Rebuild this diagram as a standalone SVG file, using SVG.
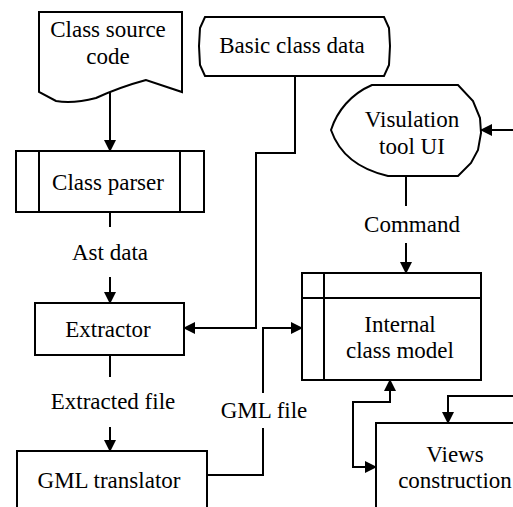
<svg xmlns="http://www.w3.org/2000/svg" width="513" height="507" viewBox="0 0 513 507">
  <style>
    .shape { fill: #ffffff; stroke: #000000; stroke-width: 2; }
    .div { fill: none; stroke: #000000; stroke-width: 2; }
    .wire { fill: none; stroke: #000000; stroke-width: 2; }
    .lbl { font-size: 23px; fill: #000000; text-anchor: middle; }
  </style>
  <defs>
    <marker id="head" viewBox="0 0 12 12" refX="11" refY="6" markerWidth="12" markerHeight="12" markerUnits="userSpaceOnUse" orient="auto-start-reverse">
      <path d="M0,0 L12,6 L0,12 Z" fill="#000000"/>
    </marker>
  </defs>

  <g id="connectors">
    <!-- source code -> parser -->
    <line class="wire" x1="110" y1="92" x2="110" y2="151" marker-end="url(#head)"/>
    <!-- parser -> extractor (label gap) -->
    <line class="wire" x1="110" y1="212" x2="110" y2="227"/>
    <line class="wire" x1="110" y1="277" x2="110" y2="303" marker-end="url(#head)"/>
    <!-- basic class data -> extractor -->
    <polyline class="wire" points="295,76 295,153 256,153 256,328 184,328" marker-end="url(#head)"/>
    <!-- extractor -> translator (label gap) -->
    <line class="wire" x1="110" y1="355" x2="110" y2="377"/>
    <line class="wire" x1="110" y1="427" x2="110" y2="451" marker-end="url(#head)"/>
    <!-- translator -> internal model (label gap) -->
    <polyline class="wire" points="207,475 263,475 263,428"/>
    <polyline class="wire" points="263,393 263,328 302,328" marker-end="url(#head)"/>
    <!-- tool UI -> internal model (label gap) -->
    <line class="wire" x1="406" y1="176" x2="406" y2="206"/>
    <line class="wire" x1="406" y1="243" x2="406" y2="273" marker-end="url(#head)"/>
    <!-- incoming to tool UI -->
    <line class="wire" x1="513" y1="130" x2="481" y2="130" marker-end="url(#head)"/>
    <!-- internal model <-> views -->
    <polyline class="wire" points="390,380 390,402 353,402 353,467 376,467" marker-start="url(#head)" marker-end="url(#head)"/>
    <!-- incoming to views -->
    <polyline class="wire" points="513,396 448,396 448,423" marker-end="url(#head)"/>
  </g>

  <g font-family="Liberation Serif, Times New Roman, serif">
    <g id="class-source-code">
      <path class="shape" d="M39,12 L182,12 L182,92 L146,80 Q120,87 96,98 Q73,104 56,101 L39,92 Z"/>
      <text class="lbl" x="108" y="37">Class source</text>
      <text class="lbl" x="108" y="64">code</text>
    </g>

    <g id="basic-class-data">
      <path class="shape" d="M205,17 L384,17 L389,28 L390,46 L389,65 L384,76 L205,76 L200,65 L199,46 L200,28 Z"/>
      <text class="lbl" x="292" y="53">Basic class data</text>
    </g>

    <g id="class-parser">
      <rect class="shape" x="16" y="151" width="188" height="61"/>
      <line class="div" x1="39" y1="151" x2="39" y2="212"/>
      <line class="div" x1="180" y1="151" x2="180" y2="212"/>
      <text class="lbl" x="108" y="190">Class parser</text>
    </g>
    <text class="lbl" x="110" y="260">Ast data</text>

    <g id="extractor">
      <rect class="shape" x="35" y="303" width="149" height="52"/>
      <text class="lbl" x="108" y="337">Extractor</text>
    </g>
    <text class="lbl" x="113" y="409">Extracted file</text>

    <g id="gml-translator">
      <rect class="shape" x="17" y="451" width="190" height="70"/>
      <text class="lbl" x="109" y="488">GML translator</text>
    </g>
    <text class="lbl" x="264" y="418">GML file</text>

    <g id="visulation-tool-ui">
      <path class="shape" d="M372,85 L458,85 L473,101 L480,118 L481,133 L478,150 L471,163 L458,176 L388,176 C362,170 340,156 331,130 C337,111 351,94 372,85 Z"/>
      <text class="lbl" x="412" y="127">Visulation</text>
      <text class="lbl" x="412" y="154">tool UI</text>
    </g>
    <text class="lbl" x="412" y="232">Command</text>

    <g id="internal-class-model">
      <rect class="shape" x="302" y="273" width="179" height="107"/>
      <line class="div" x1="324" y1="273" x2="324" y2="380"/>
      <line class="div" x1="302" y1="298" x2="481" y2="298"/>
      <text class="lbl" x="400" y="332">Internal</text>
      <text class="lbl" x="400" y="358">class model</text>
    </g>

    <g id="views-construction">
      <rect class="shape" x="376" y="423" width="160" height="100"/>
      <text class="lbl" x="455" y="462">Views</text>
      <text class="lbl" x="455" y="488">construction</text>
    </g>
  </g>
</svg>
